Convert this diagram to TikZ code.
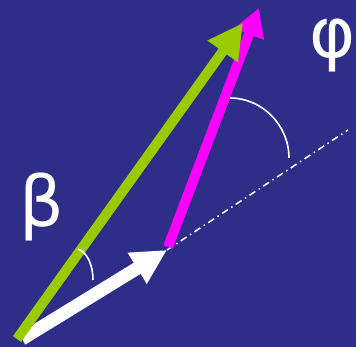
\documentclass[tikz,border=0pt]{standalone}
\usepackage{fontspec}
\newfontfamily\greekfont{DejaVu Sans}
\usetikzlibrary{arrows.meta}
\definecolor{bgblue}{RGB}{46,46,136}
\definecolor{vgreen}{RGB}{153,204,0}
\definecolor{vmag}{RGB}{255,0,255}
\begin{document}
\begin{tikzpicture}[x=1pt,y=-1pt,
  vecarrow/.style={line width=#1, line cap=butt},
  angarc/.style={white, line width=1.6pt},
  dashline/.style={white, line width=1.5pt, dash pattern=on 7pt off 4pt on 1.5pt off 4pt},
  lbl/.style={text=white, inner sep=0pt, font=\greekfont\fontsize{70}{70}\selectfont}]
\fill[bgblue] (0,0) rectangle (356,347);
\useasboundingbox (0,0) rectangle (356,347);
% points
\coordinate (gT) at (17,339);
\coordinate (gH) at (243,23);
\coordinate (wT) at (22,339);
\coordinate (wH) at (167,250);
\coordinate (mT) at (168,247);
\coordinate (mH) at (259,8);
\coordinate (dE) at (348,130);
\coordinate (a1s) at (230,98);
\coordinate (a1e) at (289,158);
\coordinate (a2s) at (78,249);
\coordinate (a2e) at (93,280);
% dash-dot extension
\draw[dashline] (wH) -- (dE);
% white arrow
\draw[vecarrow=13pt, white, -{Triangle[length=35pt,width=34pt]}] (wT) -- (wH);
% magenta arrow
\draw[vecarrow=10pt, vmag, -{Triangle[length=28pt,width=30pt]}] (mT) -- (mH);
% green arrow
\draw[vecarrow=10pt, vgreen, -{Triangle[length=35pt,width=35pt]}] (gT) -- (gH);
% angle arcs
\draw[angarc] (a1s) .. controls (262,98) and (289,125) .. (a1e);
\draw[angarc] (a2s) .. controls (88,253) and (93,266) .. (a2e);
% labels
\node[lbl, anchor=base] (beta) at (42,227) {β};
\node[lbl, anchor=base] (phi) at (333,58) {φ};
\end{tikzpicture}
\end{document}
